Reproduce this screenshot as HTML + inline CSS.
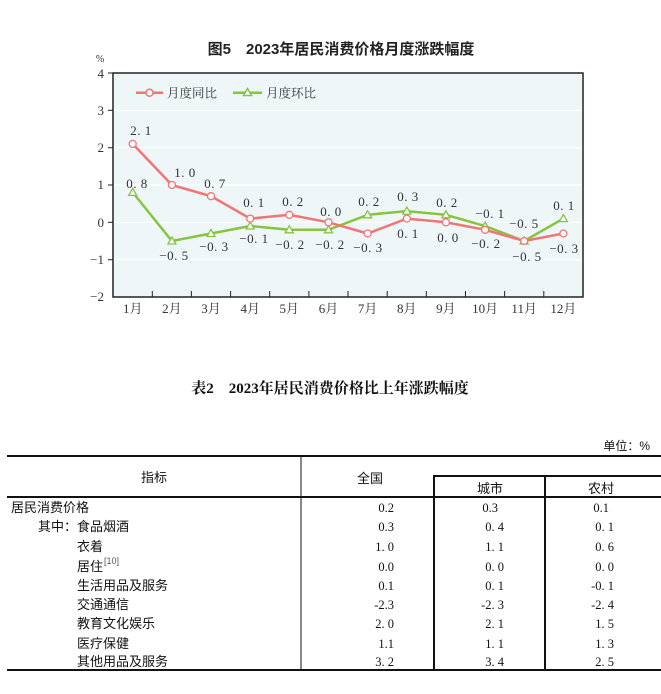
<!DOCTYPE html>
<html><head><meta charset="utf-8"><style>
body{margin:0;background:#fff;}
svg{display:block;}
.s{font-family:"Liberation Serif","Noto Serif CJK SC",serif;}
.h{font-family:"Liberation Sans","Noto Sans CJK SC",sans-serif;}
</style></head><body>
<svg width="661" height="694" xmlns="http://www.w3.org/2000/svg">
<text x="341" y="54" text-anchor="middle" class="h" font-size="15" font-weight="bold" fill="#222">图5　2023年居民消费价格月度涨跌幅度</text>
<rect x="113" y="73" width="470" height="224" fill="#eef6f8" stroke="#222" stroke-width="1.5"/>
<g stroke="#fff" stroke-width="1.2">
<line x1="114" x2="582" y1="110.3" y2="110.3"/><line x1="114" x2="582" y1="147.7" y2="147.7"/>
<line x1="114" x2="582" y1="185" y2="185"/><line x1="114" x2="582" y1="222.3" y2="222.3"/>
<line x1="114" x2="582" y1="259.7" y2="259.7"/>
</g>
<g stroke="#222" stroke-width="1">
<line x1="108" x2="113" y1="73" y2="73"/><line x1="108" x2="113" y1="110.3" y2="110.3"/><line x1="108" x2="113" y1="147.7" y2="147.7"/><line x1="108" x2="113" y1="185" y2="185"/><line x1="108" x2="113" y1="222.3" y2="222.3"/><line x1="108" x2="113" y1="259.7" y2="259.7"/>
<line x1="152.3" x2="152.3" y1="291" y2="297"/><line x1="191.4" x2="191.4" y1="291" y2="297"/><line x1="230.6" x2="230.6" y1="291" y2="297"/><line x1="269.7" x2="269.7" y1="291" y2="297"/><line x1="308.9" x2="308.9" y1="291" y2="297"/><line x1="348" x2="348" y1="291" y2="297"/><line x1="387.2" x2="387.2" y1="291" y2="297"/><line x1="426.3" x2="426.3" y1="291" y2="297"/><line x1="465.5" x2="465.5" y1="291" y2="297"/><line x1="504.6" x2="504.6" y1="291" y2="297"/><line x1="543.8" x2="543.8" y1="291" y2="297"/>
</g>
<g class="s" font-size="13" fill="#333" text-anchor="end">
<text x="104" y="78">4</text><text x="104" y="115">3</text><text x="104" y="152">2</text><text x="104" y="189">1</text><text x="104" y="227">0</text><text x="104" y="264">−1</text><text x="104" y="301">−2</text>
</g>
<text x="100" y="62" text-anchor="middle" class="s" font-size="10" fill="#333">%</text>
<g class="s" font-size="13" fill="#333" text-anchor="middle">
<text x="132.7" y="313">1月</text><text x="171.9" y="313">2月</text><text x="211" y="313">3月</text><text x="250.2" y="313">4月</text><text x="289.3" y="313">5月</text><text x="328.5" y="313">6月</text><text x="367.6" y="313">7月</text><text x="406.8" y="313">8月</text><text x="445.9" y="313">9月</text><text x="485.1" y="313">10月</text><text x="524.2" y="313">11月</text><text x="563.4" y="313">12月</text>
</g>
<line x1="136" x2="163" y1="92.7" y2="92.7" stroke="#f07575" stroke-width="2.5"/>
<circle cx="149.5" cy="92.7" r="3.5" fill="#fff" stroke="#f07575" stroke-width="1.5"/>
<text x="167" y="97.5" class="s" font-size="12.5" fill="#333">月度同比</text>
<line x1="233" x2="262" y1="92.7" y2="92.7" stroke="#86c440" stroke-width="2.5"/>
<polygon points="247.5,88.5 251.5,95.5 243.5,95.5" fill="#fff" stroke="#86c440" stroke-width="1.5"/>
<text x="266" y="97.5" class="s" font-size="12.5" fill="#333">月度环比</text>
<polyline fill="none" stroke="#86c440" stroke-width="2.5" points="132.7,192.4 171.9,241 211,233.5 250.2,226 289.3,229.8 328.5,229.8 367.6,214.8 406.8,211.1 445.9,214.8 485.1,226 524.2,241 563.4,218.6"/>
<polyline fill="none" stroke="#f07575" stroke-width="2.5" points="132.7,143.9 171.9,185 211,196.2 250.2,218.6 289.3,214.8 328.5,222.3 367.6,233.5 406.8,218.6 445.9,222.3 485.1,229.8 524.2,241 563.4,233.5"/>
<g fill="#fff" stroke="#86c440" stroke-width="1.3">
<polygon points="132.7,188.4 136.7,195.4 128.7,195.4"/><polygon points="171.9,237 175.9,244 167.9,244"/><polygon points="211,229.5 215,236.5 207,236.5"/><polygon points="250.2,222 254.2,229 246.2,229"/><polygon points="289.3,225.8 293.3,232.8 285.3,232.8"/><polygon points="328.5,225.8 332.5,232.8 324.5,232.8"/><polygon points="367.6,210.8 371.6,217.8 363.6,217.8"/><polygon points="406.8,207.1 410.8,214.1 402.8,214.1"/><polygon points="445.9,210.8 449.9,217.8 441.9,217.8"/><polygon points="485.1,222 489.1,229 481.1,229"/><polygon points="524.2,237 528.2,244 520.2,244"/><polygon points="563.4,214.6 567.4,221.6 559.4,221.6"/>
</g>
<g fill="#fff" stroke="#f07575" stroke-width="1.3">
<circle cx="132.7" cy="143.9" r="3.5"/><circle cx="171.9" cy="185" r="3.5"/><circle cx="211" cy="196.2" r="3.5"/><circle cx="250.2" cy="218.6" r="3.5"/><circle cx="289.3" cy="214.8" r="3.5"/><circle cx="328.5" cy="222.3" r="3.5"/><circle cx="367.6" cy="233.5" r="3.5"/><circle cx="406.8" cy="218.6" r="3.5"/><circle cx="445.9" cy="222.3" r="3.5"/><circle cx="485.1" cy="229.8" r="3.5"/><circle cx="524.2" cy="241" r="3.5"/><circle cx="563.4" cy="233.5" r="3.5"/>
</g>
<g class="s" font-size="13" fill="#333" text-anchor="middle" letter-spacing="0.5">
<text x="141" y="135">2. 1</text><text x="137" y="188">0. 8</text>
<text x="185" y="177">1. 0</text><text x="174" y="260">−0. 5</text>
<text x="215" y="188">0. 7</text><text x="214" y="251">−0. 3</text>
<text x="254" y="207">0. 1</text><text x="254" y="243">−0. 1</text>
<text x="293" y="206">0. 2</text><text x="290" y="249">−0. 2</text>
<text x="331" y="216">0. 0</text><text x="330" y="249">−0. 2</text>
<text x="369" y="206">0. 2</text><text x="368" y="252">−0. 3</text>
<text x="408" y="201">0. 3</text><text x="408" y="238">0. 1</text>
<text x="447" y="207">0. 2</text><text x="448" y="242">0. 0</text>
<text x="490" y="218">−0. 1</text><text x="486" y="248">−0. 2</text>
<text x="524" y="228">−0. 5</text><text x="527" y="261">−0. 5</text>
<text x="564" y="210">0. 1</text><text x="564" y="253">−0. 3</text>
</g>
<text x="330" y="393" text-anchor="middle" class="s" font-size="15" font-weight="bold" fill="#111">表2　2023年居民消费价格比上年涨跌幅度</text>
<text x="650" y="450" text-anchor="end" class="h" font-size="12" fill="#111">单位：%</text>
<line x1="7" x2="661" y1="456" y2="456" stroke="#111" stroke-width="2"/>
<line x1="433" x2="661" y1="476" y2="476" stroke="#111" stroke-width="2"/>
<line x1="7" x2="661" y1="497" y2="497" stroke="#111" stroke-width="2"/>
<line x1="7" x2="661" y1="670" y2="670" stroke="#111" stroke-width="2"/>
<line x1="301" x2="301" y1="456" y2="670" stroke="#111" stroke-width="1"/>
<line x1="434" x2="434" y1="476" y2="670" stroke="#111" stroke-width="2"/>
<line x1="545" x2="545" y1="476" y2="670" stroke="#111" stroke-width="2"/>
<g class="h" font-size="13" fill="#111">
<text x="154" y="482" text-anchor="middle">指标</text>
<text x="370" y="483" text-anchor="middle">全国</text>
<text x="490" y="493" text-anchor="middle">城市</text>
<text x="601" y="493" text-anchor="middle">农村</text>
<text x="11" y="512">居民消费价格</text>
<text x="38" y="531">其中：食品烟酒</text>
<text x="77" y="551">衣着</text>
<text x="77" y="571">居住</text><text x="104" y="564" font-size="9" fill="#555">[10]</text>
<text x="77" y="590">生活用品及服务</text>
<text x="77" y="609">交通通信</text>
<text x="77" y="628">教育文化娱乐</text>
<text x="77" y="648">医疗保健</text>
<text x="77" y="666">其他用品及服务</text>
</g>
<g class="s" font-size="12.5" fill="#111" text-anchor="end">
<text x="394" y="512">0.2</text><text x="498" y="512">0.3</text><text x="609" y="512">0.1</text>
<text x="394" y="531">0.3</text><text x="504" y="531">0. 4</text><text x="614" y="531">0. 1</text>
<text x="394" y="551">1. 0</text><text x="504" y="551">1. 1</text><text x="614" y="551">0. 6</text>
<text x="394" y="571">0.0</text><text x="504" y="571">0. 0</text><text x="614" y="571">0. 0</text>
<text x="394" y="590">0.1</text><text x="504" y="590">0. 1</text><text x="614" y="590">-0. 1</text>
<text x="394" y="609">-2.3</text><text x="504" y="609">-2. 3</text><text x="614" y="609">-2. 4</text>
<text x="394" y="628">2. 0</text><text x="504" y="628">2. 1</text><text x="614" y="628">1. 5</text>
<text x="394" y="648">1.1</text><text x="504" y="648">1. 1</text><text x="614" y="648">1. 3</text>
<text x="394" y="666">3. 2</text><text x="504" y="666">3. 4</text><text x="614" y="666">2. 5</text>
</g>
</svg>
</body></html>
